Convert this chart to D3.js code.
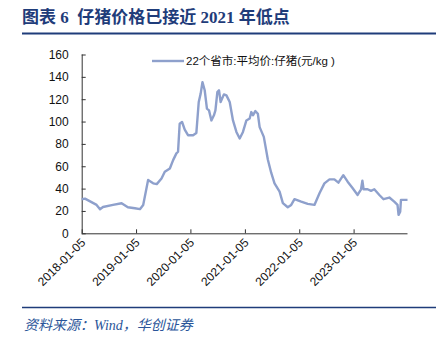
<!DOCTYPE html>
<html><head><meta charset="utf-8">
<script src="https://cdn.jsdelivr.net/npm/d3@7"></script>
<style>
html,body{margin:0;padding:0;background:#fff;}
svg{display:block;}
</style></head>
<body>
<svg id="c" width="447" height="338"></svg>
<script>
const dates = ["2018-01-05","2018-01-27","2018-04-15","2018-05-08","2018-05-28","2018-08-03","2018-09-30","2018-11-11","2018-12-28","2019-01-31","2019-02-22","2019-03-27","2019-04-30","2019-05-24","2019-06-25","2019-07-17","2019-08-20","2019-09-11","2019-10-03","2019-10-14","2019-10-25","2019-11-10","2019-11-28","2019-12-20","2020-01-23","2020-02-14","2020-03-01","2020-03-14","2020-03-26","2020-04-10","2020-04-25","2020-05-09","2020-05-25","2020-06-11","2020-06-21","2020-07-04","2020-07-15","2020-07-26","2020-08-17","2020-09-03","2020-09-25","2020-10-17","2020-11-09","2020-12-01","2020-12-23","2021-01-15","2021-02-06","2021-02-17","2021-02-28","2021-03-16","2021-04-02","2021-04-14","2021-05-12","2021-06-08","2021-07-01","2021-07-23","2021-08-26","2021-09-17","2021-10-20","2021-11-12","2021-12-04","2022-01-18","2022-03-03","2022-04-17","2022-05-21","2022-06-23","2022-07-27","2022-08-29","2022-09-25","2022-10-28","2022-11-26","2022-12-30","2023-02-01","2023-02-24","2023-03-05","2023-03-13","2023-04-09","2023-05-02","2023-05-24","2023-06-27","2023-07-25","2023-09-02","2023-10-05","2023-10-27","2023-11-03","2023-11-14","2023-11-19","2024-01-02"];
const prices = [30.5,31,25.4,21.6,23.5,25.4,26.9,23.3,22.4,21.6,25.4,47.7,44.7,44,49,55,58,65.5,71.5,73,98,99.6,92.8,87.8,87.8,89.8,117.5,125,135.3,128,111.6,110,101,105.6,110,126.4,128,117.5,124.3,123.4,117.5,101,90.7,84.8,90.7,101,102.7,108.5,105.6,109.4,107,95,86.3,66,54,44.7,37.3,27,23.3,25.4,30.5,28.3,26.3,25.4,35.8,44.7,48.3,48.3,45.3,52,46.2,40.3,34.3,39.4,47,39.4,39.4,38,39.4,34.3,30.5,32,28.3,25.4,16.5,19.4,29.9,29.9];
const xTickLabels = ["2018-01-05","2019-01-05","2020-01-05","2021-01-05","2022-01-05","2023-01-05"];
const yTicks = [0,20,40,60,80,100,120,140,160];
const seriesName = "22个省市:平均价:仔猪(元/kg )";
const titleText = "图表 6  仔猪价格已接近 2021 年低点";
const sourceText = "资料来源：Wind，华创证券";

const parse = d3.timeParse("%Y-%m-%d");
const data = dates.map((d,i)=>({date:parse(d), v:prices[i]}));
const svg = d3.select("#c");
const navy = "#1f3c7a";
const lineColor = "#8ea0cc";

const x = d3.scaleTime().domain([parse(dates[0]), parse(dates[dates.length-1])]).range([81.7, 407.5]);
const y = d3.scaleLinear().domain([0,160]).range([233.3, 54.5]);

// title
svg.append("text").attr("x",22).attr("y",23)
  .attr("font-family","'Liberation Serif','Noto Sans CJK SC',serif")
  .attr("font-weight","bold").attr("font-size",17).attr("fill",navy)
  .style("white-space","pre")
  .text(titleText);
svg.append("line").attr("x1",22).attr("x2",436).attr("y1",33.5).attr("y2",33.5)
  .attr("stroke",navy).attr("stroke-width",2);

// axes
const yAxis = d3.axisLeft(y).tickValues(yTicks).tickSize(-4).tickPadding(13);
const gy = svg.append("g").attr("transform","translate(81.7,0)").call(yAxis);
gy.selectAll("text").attr("font-family","'Liberation Sans',Arial,sans-serif").attr("font-size",12).attr("fill","#111");
gy.selectAll("line,path").attr("stroke","#333");
gy.select(".domain").attr("d","M0.5,54.5V233.3");

const xAxis = d3.axisBottom(x).tickValues(xTickLabels.map(parse)).tickSize(-4).tickFormat(d3.timeFormat("%Y-%m-%d"));
const gx = svg.append("g").attr("transform","translate(0,233.3)").call(xAxis);
gx.selectAll("line,path").attr("stroke","#333");
gx.select(".domain").attr("d","M81.7,0.5H407.5");
gx.selectAll("text").attr("font-family","'Liberation Sans',Arial,sans-serif").attr("font-size",12).attr("fill","#111")
  .attr("text-anchor","end").attr("dy",null).attr("y",0)
  .attr("transform","translate(4,10) rotate(-45)");

// line
svg.append("path").datum(data)
  .attr("fill","none").attr("stroke",lineColor).attr("stroke-width",2.4)
  .attr("stroke-linejoin","round")
  .attr("d", d3.line().x(d=>x(d.date)).y(d=>y(d.v)));

// legend
svg.append("line").attr("x1",152).attr("x2",184).attr("y1",61).attr("y2",61)
  .attr("stroke",lineColor).attr("stroke-width",2.4);
svg.append("text").attr("x",186).attr("y",65)
  .attr("font-family","'Liberation Sans','Noto Sans CJK SC',sans-serif")
  .attr("font-size",11.5).attr("fill","#111").style("white-space","pre").text(seriesName);

// source
svg.append("line").attr("x1",22).attr("x2",436).attr("y1",307.5).attr("y2",307.5)
  .attr("stroke",navy).attr("stroke-width",1.5);
svg.append("text").attr("x",24).attr("y",330)
  .attr("font-family","'Liberation Serif','Noto Sans CJK SC',serif")
  .attr("font-style","italic").attr("font-size",14).attr("fill","#2a5599")
  .text(sourceText);
</script>
</body></html>
